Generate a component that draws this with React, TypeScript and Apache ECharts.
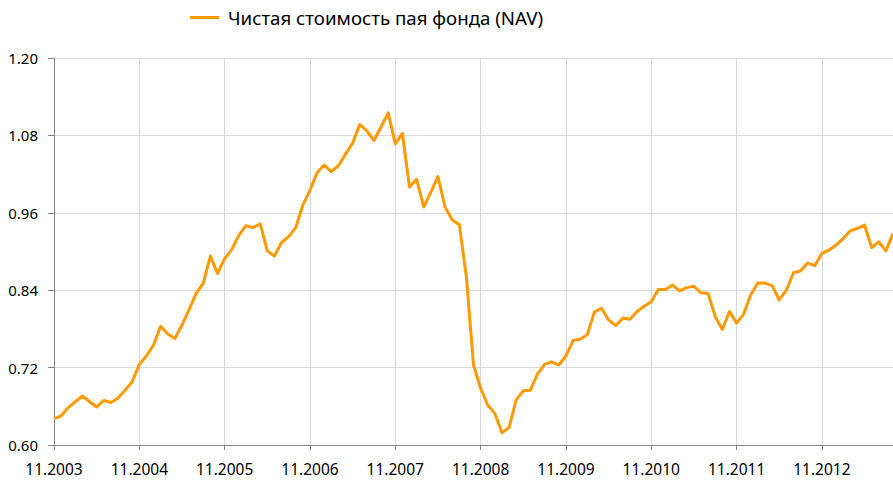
import React, { useEffect, useRef } from "react";
import * as echarts from "echarts";

const seriesName = "Чистая стоимость пая фонда (NAV)";
const startMonth = 11;
const startYear = 2003;

const navValues: number[] = [
  0.641, 0.645, 0.658, 0.667, 0.676, 0.667, 0.659, 0.669, 0.666, 0.673, 0.685, 0.698,
  0.725, 0.738, 0.755, 0.784, 0.772, 0.765, 0.786, 0.810, 0.835, 0.851, 0.893, 0.866,
  0.889, 0.903, 0.925, 0.940, 0.937, 0.943, 0.901, 0.893, 0.914, 0.923, 0.937, 0.972,
  0.995, 1.022, 1.034, 1.024, 1.033, 1.051, 1.068, 1.097, 1.087, 1.072, 1.093, 1.115,
  1.067, 1.083, 1.000, 1.012, 0.969, 0.992, 1.016, 0.969, 0.949, 0.942, 0.861, 0.724,
  0.688, 0.662, 0.649, 0.619, 0.627, 0.670, 0.684, 0.685, 0.710, 0.725, 0.729, 0.724,
  0.738, 0.762, 0.764, 0.771, 0.806, 0.812, 0.794, 0.785, 0.797, 0.795, 0.807, 0.815,
  0.822, 0.841, 0.841, 0.848, 0.839, 0.844, 0.846, 0.836, 0.835, 0.799, 0.779, 0.807,
  0.789, 0.803, 0.833, 0.851, 0.851, 0.847, 0.825, 0.840, 0.867, 0.870, 0.882, 0.878,
  0.897, 0.902, 0.910, 0.920, 0.932, 0.936, 0.941, 0.906, 0.915, 0.901, 0.928,
];

const months: string[] = navValues.map((_, i) => {
  const m0 = startMonth - 1 + i;
  const m = (m0 % 12) + 1;
  const y = startYear + Math.floor(m0 / 12);
  return (m < 10 ? "0" + m : "" + m) + "." + y;
});

const yMin = 0.6;
const yMax = 1.2;
const yStep = 0.12;

const FONT = "'Noto Sans', sans-serif";
const yearly = (i: number) => i % 12 === 0;

export default function App() {
  const ref = useRef<HTMLDivElement>(null);
  useEffect(() => {
    document.body.style.margin = "0";
    if (!ref.current) return;
    const chart = echarts.init(ref.current, undefined, { renderer: "svg" });
    chart.setOption({
      animation: false,
      backgroundColor: "#ffffff",
      textStyle: { fontFamily: FONT },
      legend: {
        data: [{ name: seriesName, icon: "rect" }],
        left: 190,
        top: 8,
        padding: 0,
        itemWidth: 29,
        itemHeight: 3,
        textStyle: { fontFamily: FONT, fontSize: 18.7, color: "#000", padding: [0, 0, 0, 4] },
      },
      grid: { left: 54, right: -6, top: 58, bottom: 38, containLabel: false },
      xAxis: {
        type: "category",
        data: months,
        boundaryGap: false,
        axisLine: { lineStyle: { color: "#868686", width: 1 } },
        axisTick: { show: true, interval: yearly, length: 5, lineStyle: { color: "#868686" } },
        axisLabel: {
          interval: yearly,
          margin: 16,
          fontFamily: FONT,
          fontSize: 15.5,
          color: "#000",
          hideOverlap: false,
        },
        splitLine: { show: true, interval: yearly, lineStyle: { color: "#d9d9d9", width: 1 } },
      },
      yAxis: {
        type: "value",
        min: yMin,
        max: yMax,
        interval: yStep,
        axisLine: { show: true, lineStyle: { color: "#868686", width: 1 } },
        axisTick: { show: true, length: 6, lineStyle: { color: "#868686" } },
        axisLabel: {
          margin: 16,
          fontFamily: FONT,
          fontSize: 15,
          color: "#000",
          formatter: (v: number) => v.toFixed(2),
        },
        splitLine: { show: true, lineStyle: { color: "#d9d9d9", width: 1 } },
      },
      series: [
        {
          name: seriesName,
          type: "line",
          data: navValues,
          showSymbol: false,
          symbol: "none",
          lineStyle: { color: "#ff9900", width: 3, join: "round" },
          itemStyle: { color: "#ff9900" },
          clip: true,
        },
      ],
    });
    return () => chart.dispose();
  }, []);
  return <div ref={ref} style={{ width: 893, height: 483 }} />;
}
